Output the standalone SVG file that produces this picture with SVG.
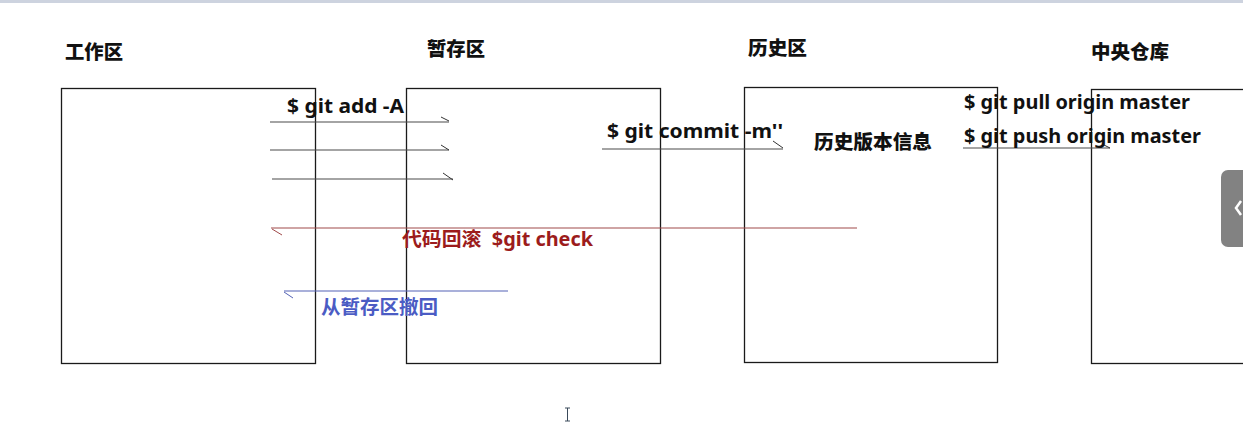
<svg xmlns="http://www.w3.org/2000/svg" width="1243" height="427" viewBox="0 0 1243 427">
<style>
.box{fill:#fff;stroke:#1a1a1a;stroke-width:1.3}
.title{font-family:"Noto Sans CJK SC","Noto Sans",sans-serif;font-weight:900;font-size:19px;fill:#111}
.cmd{font-family:"Noto Sans","Noto Sans CJK SC",sans-serif;font-weight:bold;font-size:19.5px;fill:#111}
.ln{stroke:#4a4a4a;stroke-width:1.2;fill:none}
.barb{stroke:#333;stroke-width:1;fill:none}
.red{stroke:#a04a4a}
.blue{stroke:#5563b5}
</style>
<rect x="0" y="0" width="1243" height="427" fill="#fff"/>
<rect x="0" y="0" width="1243" height="3" fill="#cdd3df"/>

<g id="node-workspace">
<rect class="box" x="61.5" y="88.5" width="254" height="275"/>
<text class="title" x="65" y="58.5" textLength="58" lengthAdjust="spacingAndGlyphs">工作区</text>
</g>
<g id="node-staging">
<rect class="box" x="406.5" y="88.5" width="254" height="275"/>
<text class="title" x="427" y="56" textLength="58" lengthAdjust="spacingAndGlyphs">暂存区</text>
</g>
<g id="node-history">
<rect class="box" x="744.5" y="87.5" width="253" height="275"/>
<text class="title" x="748" y="55" textLength="59" lengthAdjust="spacingAndGlyphs">历史区</text>
<text class="title" x="814" y="149" textLength="118" lengthAdjust="spacingAndGlyphs">历史版本信息</text>
</g>
<g id="node-remote">
<rect class="box" x="1091.5" y="89.5" width="160" height="274"/>
<text class="title" x="1091" y="59" textLength="78" lengthAdjust="spacingAndGlyphs">中央仓库</text>
</g>

<g id="connectors">
<line class="ln" x1="270" y1="122" x2="449" y2="122"/>
<polyline class="barb" points="441,117 449,121"/>
<line class="ln" x1="270" y1="150" x2="449" y2="150"/>
<polyline class="barb" points="441,145 449,150"/>
<line class="ln" x1="272" y1="179" x2="453" y2="179"/>
<polyline class="barb" points="443,173 453,180"/>
<line class="ln" x1="602" y1="149" x2="783" y2="149"/>
<polyline class="barb" points="773,141 783,148"/>
<line class="ln" x1="963" y1="148" x2="1110" y2="148"/>
<polyline class="barb" points="1102,144 1110,148"/>
<line class="ln red" x1="271" y1="228" x2="857" y2="228"/>
<polyline class="barb red" points="272,229 282,235"/>
<line class="ln blue" x1="284" y1="291" x2="508" y2="291"/>
<polyline class="barb blue" points="284,292 293,298"/>
</g>

<g id="labels">
<text class="cmd" x="287" y="113" textLength="117" lengthAdjust="spacingAndGlyphs">$ git add -A</text>
<text class="cmd" x="607" y="138" textLength="176" lengthAdjust="spacingAndGlyphs">$ git commit -m''</text>
<text class="cmd" x="964" y="109" textLength="226" lengthAdjust="spacingAndGlyphs">$ git pull origin master</text>
<text class="cmd" x="964" y="143" textLength="237" lengthAdjust="spacingAndGlyphs">$ git push origin master</text>
<text class="cmd" x="402" y="246" style="fill:#9c1c1c" textLength="191" lengthAdjust="spacingAndGlyphs">代码回滚&#160; $git check</text>
<text class="cmd" x="321" y="314" style="fill:#4b5cc4" textLength="117" lengthAdjust="spacingAndGlyphs">从暂存区撤回</text>
</g>

<g id="ui-overlay">
<rect x="1221" y="170" width="40" height="77" rx="7" fill="#828282"/>
<polyline points="1241,201 1236,208 1241,215" fill="none" stroke="#fff" stroke-width="2.5"/>
<g stroke="#3a4a5a" stroke-width="1">
<line x1="567.5" y1="408" x2="567.5" y2="421"/>
<line x1="565" y1="408" x2="570" y2="408"/>
<line x1="565" y1="421" x2="570" y2="421"/>
</g>
</g>
</svg>
